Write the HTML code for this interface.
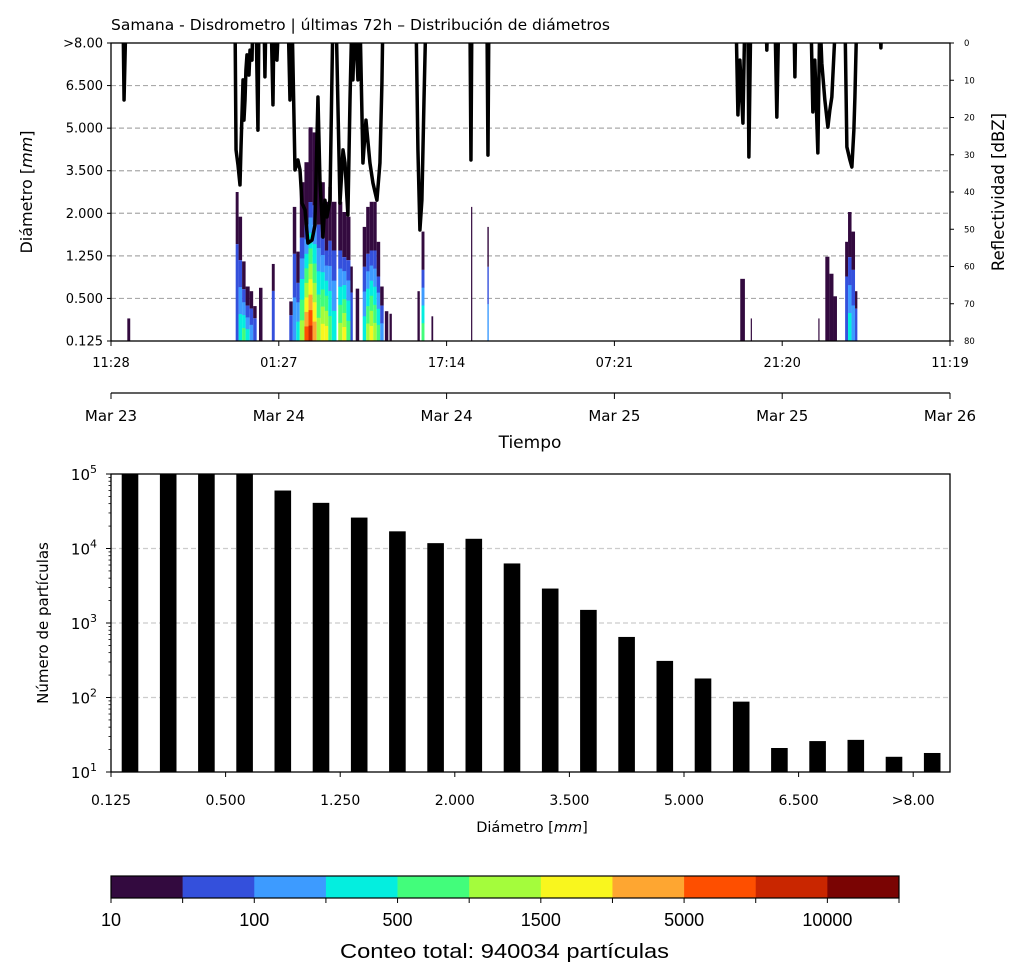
<!DOCTYPE html>
<html><head><meta charset="utf-8"><style>
html,body{margin:0;padding:0;background:#fff;}
svg{display:block;font-family:"DejaVu Sans","Liberation Sans",sans-serif;}
</style></head><body>
<svg id="fig" width="1024" height="977" viewBox="0 0 1024 977" xmlns="http://www.w3.org/2000/svg">
<defs><clipPath id="c1"><rect x="111" y="43" width="839" height="298"/></clipPath>
<clipPath id="c2"><rect x="111" y="474" width="839" height="298"/></clipPath></defs>
<text x="111" y="30" font-size="15.5">Samana - Disdrometro | últimas 72h – Distribución de diámetros</text>
<g id="top"></g>
<g id="bot"></g>
<g id="cbar"></g>
</svg>
<script>
// ---- top chart data ----
const diamLabels=["0.125","0.500","1.250","2.000","3.500","5.000","6.500",">8.00"];
const timeLabels=["11:28","01:27","17:14","07:21","21:20","11:19"];
const dateLabels=["Mar 23","Mar 24","Mar 24","Mar 25","Mar 25","Mar 26"];
const reflTicks=[0,10,20,30,40,50,60,70,80];
// heatmap columns: start hour, duration hours, top (diameter bin units), peak colour level
const colT=[1.4,10.7,10.95,11.25,11.55,11.9,12.2,12.7,13.8,15.3,15.6,15.9,16.2,16.6,16.95,17.3,17.65,18.0,18.35,18.65,18.95,19.5,19.85,20.2,20.55,21.0,21.6,21.9,22.2,22.5,22.8,23.1,23.5,23.9,26.3,26.65,27.5,30.9,32.3,54.0,54.9,60.7,61.3,61.65,62.0,63.0,63.25,63.55,63.85];
const colDur=[0.25,0.25,0.3,0.3,0.35,0.3,0.3,0.3,0.25,0.3,0.3,0.3,0.4,0.35,0.35,0.35,0.35,0.35,0.3,0.3,0.4,0.35,0.35,0.35,0.2,0.3,0.3,0.3,0.3,0.3,0.3,0.3,0.3,0.2,0.2,0.25,0.15,0.1,0.12,0.4,0.1,0.1,0.35,0.35,0.3,0.25,0.3,0.3,0.2];
const colTop=[0.53,3.5,2.92,1.87,1.28,1.17,0.82,1.25,1.81,0.93,3.15,2.1,3.73,4.2,5.02,4.9,4.2,3.73,3.27,3.62,3.27,3.27,3.03,2.92,1.75,1.23,2.68,3.15,3.27,3.27,2.33,1.28,0.7,0.64,1.17,2.57,0.58,3.15,2.68,1.46,0.53,0.53,1.98,1.58,1.05,2.33,3.03,2.57,1.17];
const colPeak=[0,1,3,4,3,2,1,0,1,1,2,3,5,8,9,7,5,6,6,4,3,5,6,4,1,0,3,5,6,5,4,2,0,0,0,4,0,0,2,0,0,0,0,0,0,1,3,2,1];
// reflectivity line (hours, dBZ); -8 = above axis
const refT=[0,1.03,1.12,1.29,10.64,10.73,10.90,11.07,11.15,11.24,11.33,11.41,11.50,11.58,11.67,11.84,11.93,12.10,12.18,12.44,12.61,12.70,13.13,13.21,13.30,13.73,13.90,13.99,14.16,14.24,14.41,15.19,15.36,15.53,15.79,16.04,16.22,16.39,16.65,16.90,17.25,17.50,17.76,17.93,18.19,18.36,18.53,18.79,19.05,19.31,19.65,19.91,20.08,20.33,20.51,20.68,20.76,20.94,21.19,21.36,21.62,21.88,22.22,22.48,22.82,23.08,23.25,23.34,26.17,26.34,26.51,26.68,26.86,27.03,30.80,30.89,30.97,32.26,32.35,32.43,53.63,53.80,53.97,54.23,54.40,54.65,54.74,54.91,56.20,56.28,56.37,56.97,57.14,57.31,58.60,58.69,58.77,60.06,60.23,60.40,60.66,60.83,61.00,61.26,61.52,61.69,61.86,62.21,62.98,63.15,63.41,63.58,63.75,63.84,64.01,65.98,66.07,66.15,72];
const refV=[-8,-8,15.3,-8,-8,28.7,32.8,38.1,28.7,19.3,9.9,20.7,15.3,7.2,3.2,8.6,1.9,4.6,-8,-8,23.4,-8,-8,9.1,-8,-8,16.6,-8,-8,4.6,-8,-8,15.3,-8,34.1,31.4,34.1,43.0,44.8,53.7,52.9,48.9,14.5,36.8,52.1,42.2,46.7,42.2,-8,-8,43.0,28.7,32.2,46.2,15.3,-8,9.9,-8,9.9,-8,32.2,20.7,32.2,37.6,42.2,32.2,10.7,-8,-8,28.7,50.2,42.2,15.3,-8,-8,31.4,-8,-8,30.1,-8,-8,19.3,4.6,21.5,-8,-8,30.6,-8,-8,1.9,-8,-8,19.9,-8,-8,9.1,-8,-8,18.5,4.6,29.5,-8,5.4,15.3,22.6,18.0,14.5,-8,-8,27.9,31.4,33.3,23.4,14.5,-8,-8,1.3,-8,-8];
// ---- bar chart data ----
const barLabels=["0.125","0.500","1.250","2.000","3.500","5.000","6.500",">8.00"];
const barCounts=[200000,200000,200000,200000,60000,41000,26000,17000,11800,13500,6300,2900,1500,650,310,180,88,21,26,27,16,18];
// ---- colorbar ----
const cbColors=["#330a3f","#3450dc","#3d9bff","#04eedf","#42fd7b","#a4fc3c","#f9f61e","#fea631","#fe4f00","#c92600","#7a0403"];
const cbLabels=["10","100","500","1500","5000","10000"];

const NS="http://www.w3.org/2000/svg";
function mk(tag,attrs,parent,text){const e=document.createElementNS(NS,tag);for(const k in attrs)e.setAttribute(k,attrs[k]);if(text!==undefined)e.textContent=text;parent.appendChild(e);return e;}

// top axes
const T=document.getElementById('top');
const X0=111,X1=950,Y0=43,Y1=341;
const xT=h=>X0+h/72*(X1-X0);
const yU=u=>Y1-u/7*(Y1-Y0);
const yR=v=>Y0+v/80*(Y1-Y0);
for(let i=1;i<7;i++){const g=mk('line',{x1:X0,x2:X1,y1:yU(i),y2:yU(i),stroke:'#aaa','stroke-width':1.2,'stroke-dasharray':'5,3'},T);

}
const hm=mk('g',{'clip-path':'url(#c1)'},T);


colT.forEach((t,i)=>{
  const x=xT(t),w=Math.max(1.2,xT(t+colDur[i])-x),top=colTop[i],p=colPeak[i];
  const darkFrac=p===0?1:0.35;
  const r0=mk('rect',{x:x,y:yU(top),width:w,height:yU(top*(1-darkFrac))-yU(top),fill:cbColors[0]},hm);
  
  
  const rest=top*(1-darkFrac);
  for(let k=1;k<=p;k++){
    const a=rest*(p-k)/p, b=rest*(p-k+1)/p;
    const r=mk('rect',{x:x,y:yU(b),width:w,height:yU(a)-yU(b)+0.3,fill:cbColors[k]},hm);
    
    
  }
});
const pl=mk('polyline',{points:refT.map((t,i)=>xT(t)+','+yR(refV[i])).join(' '),fill:'none',stroke:'#000','stroke-width':3.5,'stroke-linejoin':'round','clip-path':'url(#c1)'},T);


const fr=mk('rect',{x:X0,y:Y0,width:X1-X0,height:Y1-Y0,fill:'none',stroke:'#000','stroke-width':1.3},T);


diamLabels.forEach((l,i)=>{mk('line',{x1:X0-4,x2:X0,y1:yU(i),y2:yU(i),stroke:'#000'},T);
 const tx=mk('text',{x:X0-8,y:yU(i)+4.5,'font-size':13,'text-anchor':'end'},T,l);
 
 });
reflTicks.forEach(v=>{mk('line',{x1:X1,x2:X1+4,y1:yR(v),y2:yR(v),stroke:'#000'},T);
 const tx=mk('text',{x:X1+14,y:yR(v)+3,'font-size':8.5},T,String(v));
 
 });
timeLabels.forEach((l,i)=>{const x=X0+i*(X1-X0)/5;mk('line',{x1:x,x2:x,y1:Y1,y2:Y1+5,stroke:'#000'},T);
 const tx=mk('text',{x:x,y:367,'font-size':13,'text-anchor':'middle'},T,l);
 
 });
mk('line',{x1:X0,x2:X1,y1:393,y2:393,stroke:'#000','stroke-width':1.3},T);
dateLabels.forEach((l,i)=>{const x=X0+i*(X1-X0)/5;mk('line',{x1:x,x2:x,y1:393,y2:399,stroke:'#000'},T);
 const tx=mk('text',{x:x,y:421,'font-size':15,'text-anchor':'middle'},T,l);
 
 });
let t1=mk('text',{x:530,y:448,'font-size':17,'text-anchor':'middle'},T,'Tiempo');


t1=mk('text',{transform:'translate(32,192) rotate(-90)','font-size':16,'text-anchor':'middle'},T);
t1.innerHTML='Diámetro [<tspan font-style="italic">mm</tspan>]';


t1=mk('text',{transform:'translate(1004,192) rotate(-90)','font-size':16.5,'text-anchor':'middle'},T,'Reflectividad [dBZ]');



// bar chart
const B=document.getElementById('bot');
const BY0=474,BY1=772;
const yL=v=>BY1-(Math.log10(v)-1)/4*(BY1-BY0);
const xB=i=>130+i*38.2;
[2,3,4].forEach(e=>{const g=mk('line',{x1:X0,x2:X1,y1:yL(Math.pow(10,e)),y2:yL(Math.pow(10,e)),stroke:'#ccc','stroke-width':1.2,'stroke-dasharray':'5,3'},B);
 
 });
const bg=mk('g',{'clip-path':'url(#c2)'},B);
barCounts.forEach((v,i)=>{const y=yL(v);const r=mk('rect',{x:xB(i)-8.3,y:y,width:16.6,height:BY1-y,fill:'#000'},bg);
 
 });
const fr2=mk('rect',{x:X0,y:BY0,width:X1-X0,height:BY1-BY0,fill:'none',stroke:'#000','stroke-width':1.3},B);


for(let e=1;e<=5;e++){const y=yL(Math.pow(10,e));mk('line',{x1:X0-5,x2:X0,y1:y,y2:y,stroke:'#000'},B);
 const tx=mk('text',{x:X0-14,y:y+6,'font-size':15,'text-anchor':'end'},B);
 tx.innerHTML='10<tspan dy="-7" font-size="11">'+e+'</tspan>';
 
 
 if(e<5)for(let m=2;m<10;m++){const ym=yL(m*Math.pow(10,e));mk('line',{x1:X0-2.5,x2:X0,y1:ym,y2:ym,stroke:'#000','stroke-width':0.8},B);}}
barLabels.forEach((l,i)=>{const x=X0+i*114.6;mk('line',{x1:x,x2:x,y1:BY1,y2:BY1+5,stroke:'#000'},B);
 const tx=mk('text',{x:x,y:805,'font-size':14,'text-anchor':'middle'},B,l);
 
 });
t1=mk('text',{x:532,y:832,'font-size':14.5,'text-anchor':'middle'},B);
t1.innerHTML='Diámetro [<tspan font-style="italic">mm</tspan>]';


t1=mk('text',{transform:'translate(48,623) rotate(-90)','font-size':15,'text-anchor':'middle'},B,'Número de partículas');



// colorbar
const C=document.getElementById('cbar');
const CX0=111,CX1=899,cw=(CX1-CX0)/cbColors.length;
cbColors.forEach((c,i)=>{const r=mk('rect',{x:CX0+i*cw,y:876,width:cw+0.3,height:22,fill:c},C);
 
 });
mk('rect',{x:CX0,y:876,width:CX1-CX0,height:22,fill:'none',stroke:'#000','stroke-width':1.2},C);
for(let i=0;i<=cbColors.length;i++){const x=CX0+i*cw;mk('line',{x1:x,x2:x,y1:898,y2:903,stroke:'#000'},C);}
cbLabels.forEach((l,i)=>{const x=CX0+2*i*cw;const tx=mk('text',{x:x,y:926,'font-size':18,'text-anchor':'middle','font-family':'Liberation Sans, sans-serif'},C,l);
 
 });
t1=mk('text',{x:340,y:958,'font-size':20,'font-family':'Liberation Sans, sans-serif',textLength:329,lengthAdjust:'spacingAndGlyphs'},C,'Conteo total: 940034 partículas');


</script>
</body></html>
